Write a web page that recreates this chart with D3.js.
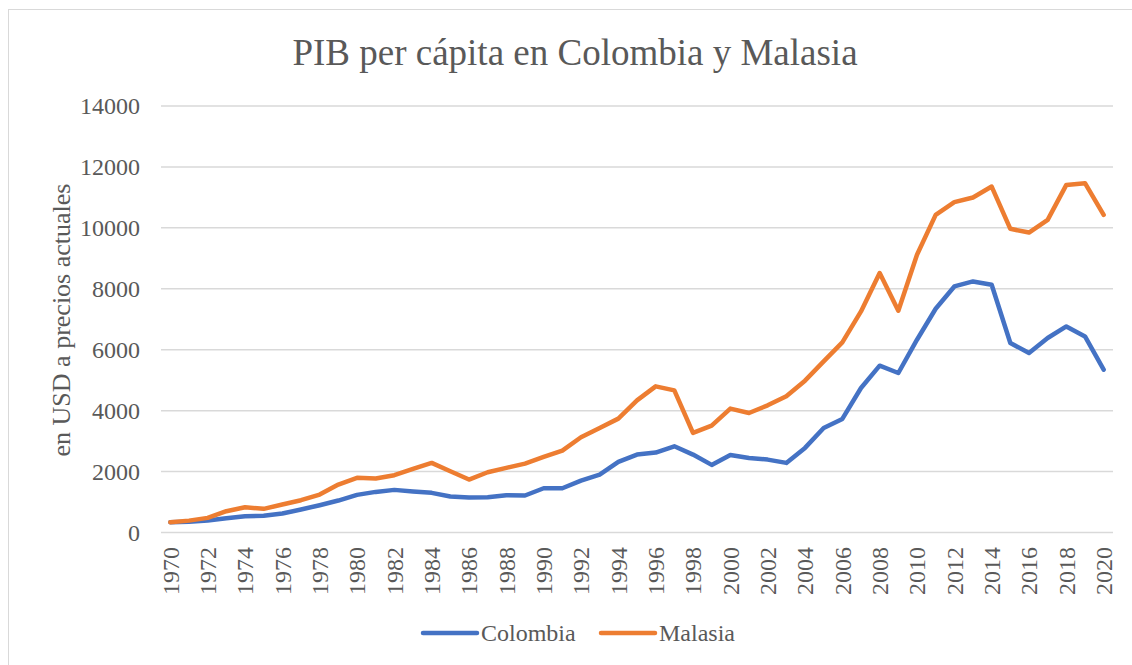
<!DOCTYPE html>
<html>
<head>
<meta charset="utf-8">
<script src="https://cdn.jsdelivr.net/npm/d3@7"></script>
<style>
  body { margin: 0; background: #fff; }
  svg { display: block; font-family: "Liberation Serif", "Times New Roman", serif; }
</style>
</head>
<body>
<div id="chart"></div>
<script>
const W = 1132, H = 665;
const margin = {top: 106, right: 19, bottom: 132, left: 161};

// years 1970..2020
const years = d3.range(1970, 2021);
const yTicks = [0, 2000, 4000, 6000, 8000, 10000, 12000, 14000];

const colombia = [
  338, 350, 393, 470, 535, 550, 623, 754, 896, 1049,
  1235, 1333, 1399, 1344, 1301, 1180, 1148, 1158, 1224, 1215,
  1453, 1453, 1705, 1902, 2318, 2558, 2623, 2830, 2558, 2219,
  2547, 2448, 2393, 2285, 2777, 3432, 3728, 4744, 5476, 5236,
  6328, 7345, 8077, 8241, 8133, 6220, 5892, 6384, 6765, 6437,
  5345
];
const malasia = [
  338, 390, 480, 700, 830, 776, 918, 1060, 1246, 1574,
  1794, 1771, 1880, 2088, 2285, 2011, 1738, 1977, 2121, 2262,
  2481, 2689, 3126, 3432, 3738, 4338, 4797, 4666, 3268, 3509,
  4066, 3924, 4175, 4470, 4984, 5618, 6240, 7257, 8515, 7279,
  9115, 10427, 10843, 10995, 11356, 9968, 9847, 10263, 11410, 11466,
  10427
];

const seriesNames = ["Colombia", "Malasia"];
const seriesColors = ["#4472c4", "#ed7d31"];
const series = [colombia, malasia];

const svg = d3.select("#chart").append("svg")
  .attr("width", W)
  .attr("height", H);

// chart frame
svg.append("rect")
  .attr("x", 8.5).attr("y", 9.5)
  .attr("width", W + 10).attr("height", H + 10)
  .attr("fill", "none")
  .attr("stroke", "#d9d9d9")
  .attr("stroke-width", 1);

const x = d3.scaleBand()
  .domain(years)
  .range([margin.left, W - margin.right]);

const y = d3.scaleLinear()
  .domain([0, 14000])
  .range([H - margin.bottom - 0.5, margin.top]);

// gridlines
svg.append("g")
  .selectAll("line")
  .data(yTicks)
  .join("line")
  .attr("x1", margin.left)
  .attr("x2", W - margin.right)
  .attr("y1", d => y(d))
  .attr("y2", d => y(d))
  .attr("stroke", "#d9d9d9")
  .attr("stroke-width", 1.5);

// y tick labels
svg.append("g")
  .selectAll("text")
  .data(yTicks)
  .join("text")
  .attr("x", 140)
  .attr("y", d => y(d))
  .attr("dy", "0.35em")
  .attr("text-anchor", "end")
  .attr("fill", "#595959")
  .attr("font-size", 24)
  .text(d => d);

// y axis title
svg.append("text")
  .attr("transform", "translate(70," + 320 + ") rotate(-90)")
  .attr("text-anchor", "middle")
  .attr("fill", "#595959")
  .attr("font-size", 26)
  .text("en USD a precios actuales");

// x tick labels (every 2 years)
svg.append("g")
  .selectAll("text")
  .data(years.filter(d => d % 2 === 0))
  .join("text")
  .attr("transform", d => "translate(" + (x(d) + x.bandwidth() / 2) + "," + 547 + ") rotate(-90)")
  .attr("dy", "0.35em")
  .attr("text-anchor", "end")
  .attr("fill", "#595959")
  .attr("font-size", 24)
  .text(d => d);

// lines
const line = d3.line()
  .x((d, i) => x(years[i]) + x.bandwidth() / 2)
  .y(d => y(d));

svg.append("g")
  .selectAll("path")
  .data(series)
  .join("path")
  .attr("d", d => line(d))
  .attr("fill", "none")
  .attr("stroke", (d, i) => seriesColors[i])
  .attr("stroke-width", 4.5)
  .attr("stroke-linejoin", "round")
  .attr("stroke-linecap", "round");

// title
svg.append("text")
  .attr("x", 575)
  .attr("y", 65)
  .attr("text-anchor", "middle")
  .attr("fill", "#595959")
  .attr("font-size", 37)
  .text("PIB per cápita en Colombia y Malasia");

// legend
const legendX = [423, 601];
const legend = svg.append("g")
  .selectAll("g")
  .data(seriesNames)
  .join("g")
  .attr("transform", (d, i) => "translate(" + legendX[i] + ",633)");

legend.append("line")
  .attr("x1", 0).attr("x2", 54)
  .attr("y1", 0).attr("y2", 0)
  .attr("stroke", (d, i) => seriesColors[i])
  .attr("stroke-width", 4.5)
  .attr("stroke-linecap", "round");

legend.append("text")
  .attr("x", 58)
  .attr("y", 0)
  .attr("dy", "0.35em")
  .attr("fill", "#595959")
  .attr("font-size", 24)
  .text(d => d);
</script>
</body>
</html>
